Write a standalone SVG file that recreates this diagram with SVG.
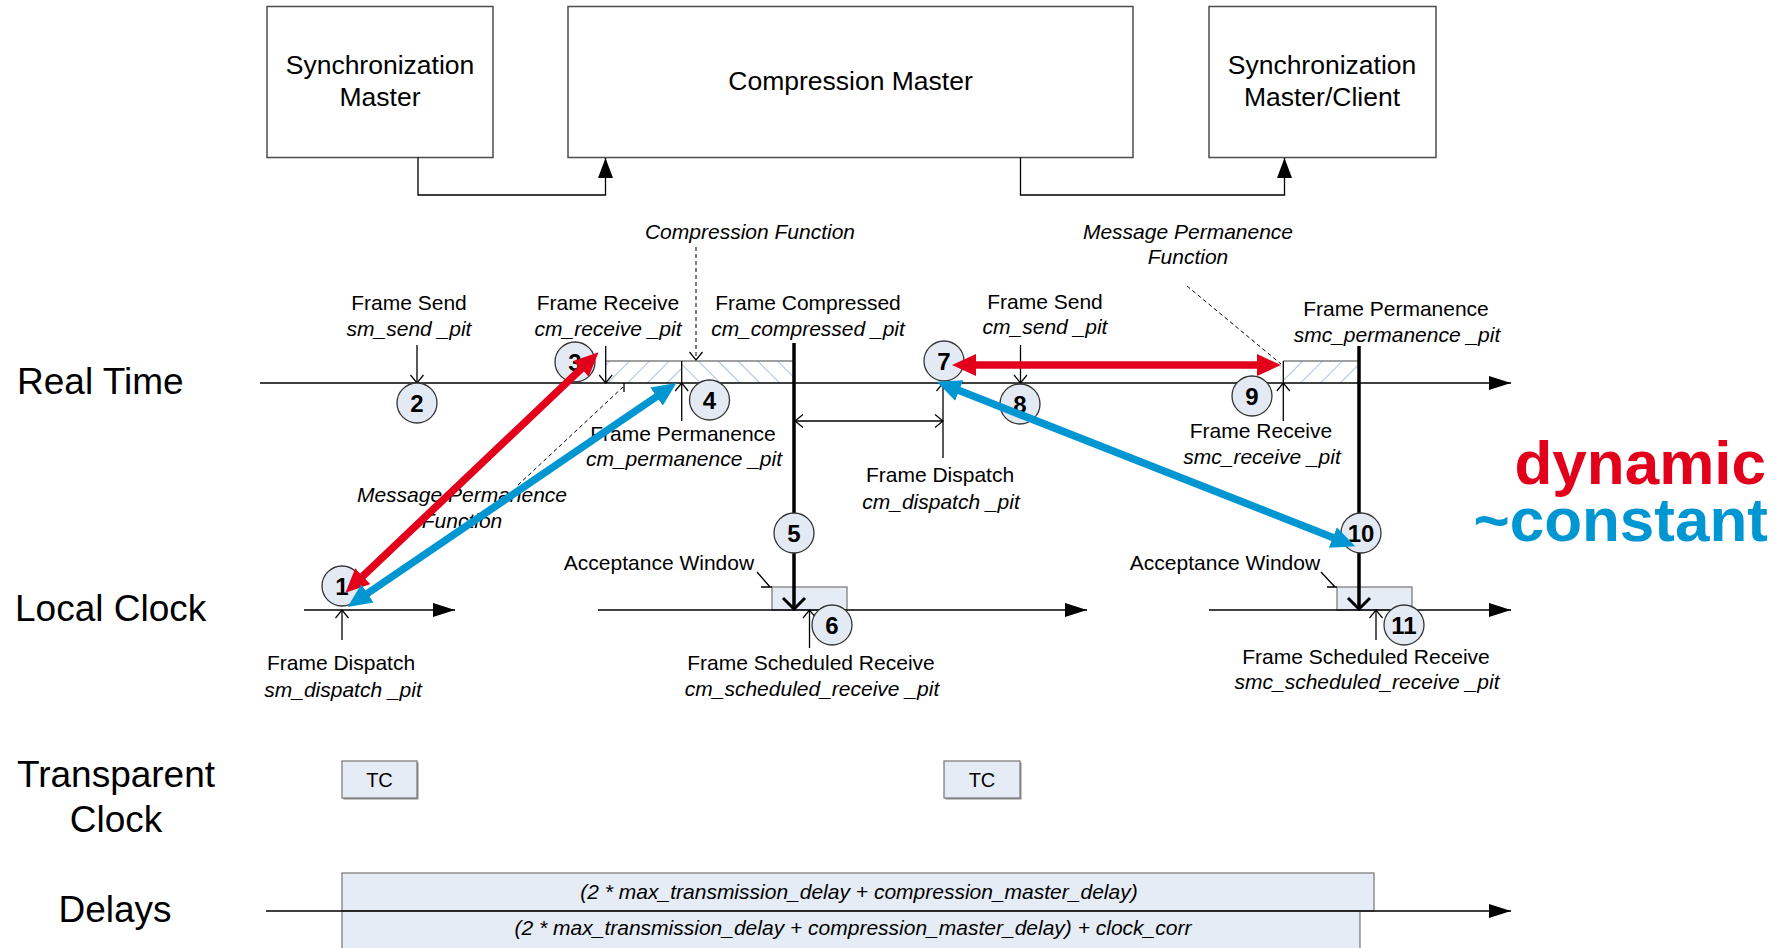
<svg xmlns="http://www.w3.org/2000/svg" width="1788" height="948" viewBox="0 0 1788 948">
  <style>
    text { font-family: "Liberation Sans", Arial, sans-serif; fill: #000; }
    .t { font-size: 21px; text-anchor: middle; }
    .i { font-style: italic; }
    .row { font-size: 37px; }
    .big { font-size: 26.5px; text-anchor: middle; }
    .num { font-size: 24px; font-weight: bold; text-anchor: middle; }
    .box { fill: #fff; stroke: #4d4d4d; stroke-width: 1.5; }
    .ln { fill: none; stroke: #000; stroke-width: 1.3; }
    .thick { fill: none; stroke: #000; stroke-width: 3.5; }
    .dash { fill: none; stroke: #000; stroke-width: 1; stroke-dasharray: 4 3; }
    .circ { fill: #e4eaf4; stroke: #333; stroke-width: 1.3; }
    .pale { fill: #e6ecf5; stroke: #7f7f7f; stroke-width: 1.3; }
    .win { fill: #e6ecf5; stroke: #7f7f7f; stroke-width: 1.3; }
    .red { fill: none; stroke: #e2001a; stroke-width: 7.5; }
    .blue { fill: none; stroke: #0096d2; stroke-width: 7.5; }
  </style>
  <defs>
    <marker id="solid" viewBox="0 0 22 14" refX="22" refY="7" markerWidth="22" markerHeight="14" markerUnits="userSpaceOnUse" orient="auto">
      <path d="M0,0 L22,7 L0,14 Z" fill="#000"/>
    </marker>
    <marker id="up" viewBox="0 0 20 15" refX="20" refY="7.5" markerWidth="20" markerHeight="15" markerUnits="userSpaceOnUse" orient="auto">
      <path d="M0,0 L20,7.5 L0,15 Z" fill="#000"/>
    </marker>
    <marker id="open" viewBox="-1 -1 10 15" refX="8" refY="6.5" markerWidth="10" markerHeight="15" markerUnits="userSpaceOnUse" orient="auto-start-reverse">
      <path d="M0,0 L8,6.5 L0,13" fill="none" stroke="#000" stroke-width="1.2"/>
    </marker>
    <marker id="openBold" viewBox="-2 -2 15 26" refX="11" refY="11" markerWidth="15" markerHeight="26" markerUnits="userSpaceOnUse" orient="auto">
      <path d="M0,0 L11,11 L0,22" fill="none" stroke="#000" stroke-width="3"/>
    </marker>
    <marker id="headRed" viewBox="0 0 24 22" refX="2" refY="11" markerWidth="24" markerHeight="22" markerUnits="userSpaceOnUse" orient="auto-start-reverse">
      <path d="M0,0 L24,11 L0,22 Z" fill="#e2001a"/>
    </marker>
    <marker id="headBlue" viewBox="0 0 24 22" refX="2" refY="11" markerWidth="24" markerHeight="22" markerUnits="userSpaceOnUse" orient="auto-start-reverse">
      <path d="M0,0 L24,11 L0,22 Z" fill="#0096d2"/>
    </marker>
    <pattern id="hatchUp" width="14" height="14" patternUnits="userSpaceOnUse" patternTransform="rotate(45)">
      <line x1="0" y1="0" x2="0" y2="14" stroke="#a6bee6" stroke-width="1.9"/>
    </pattern>
    <pattern id="hatchDown" width="14" height="14" patternUnits="userSpaceOnUse" patternTransform="rotate(-45)">
      <line x1="0" y1="0" x2="0" y2="14" stroke="#a6bee6" stroke-width="1.9"/>
    </pattern>
  </defs>

  <!-- top row: system components -->
  <g id="sync-master">
    <rect class="box" x="267" y="6.5" width="226" height="151"/>
    <text class="big" x="380" y="74">Synchronization</text>
    <text class="big" x="380" y="106">Master</text>
  </g>
  <g id="compression-master">
    <rect class="box" x="568" y="6.5" width="565" height="151"/>
    <text class="big" x="850.5" y="90">Compression Master</text>
  </g>
  <g id="sync-master-client">
    <rect class="box" x="1209" y="6.5" width="227" height="151"/>
    <text class="big" x="1322" y="74">Synchronization</text>
    <text class="big" x="1322" y="106">Master/Client</text>
  </g>

  <!-- row titles -->
  <g id="row-labels">
    <text class="row" x="17" y="394">Real Time</text>
    <text class="row" x="15" y="621">Local Clock</text>
    <text class="row" x="116" y="787" text-anchor="middle">Transparent</text>
    <text class="row" x="116" y="832" text-anchor="middle">Clock</text>
    <text class="row" x="115" y="922" text-anchor="middle">Delays</text>
  </g>

  <!-- processing intervals on the real time axis -->
  <g id="compression-interval">
    <rect x="605.7" y="361" width="76" height="22" fill="#fff"/>
    <rect x="605.7" y="361" width="76" height="22" fill="url(#hatchUp)"/>
    <rect x="681.7" y="361" width="111.5" height="22" fill="#fff"/>
    <rect x="681.7" y="361" width="111.5" height="22" fill="url(#hatchDown)"/>
    <line x1="605.7" y1="361" x2="793" y2="361" stroke="#7f7f7f" stroke-width="1.5"/>
  </g>
  <g id="permanence-interval">
    <rect x="1283.3" y="361" width="75" height="22" fill="#fff"/>
    <rect x="1283.3" y="361" width="75" height="22" fill="url(#hatchUp)"/>
    <line x1="1283.3" y1="361" x2="1358.3" y2="361" stroke="#7f7f7f" stroke-width="1.5"/>
  </g>

  <!-- acceptance windows on the local clock axis -->
  <g id="acceptance-window-1">
    <rect class="win" x="772" y="587" width="75" height="23"/>
  </g>
  <g id="acceptance-window-2">
    <rect class="win" x="1337" y="587" width="75" height="23"/>
  </g>

  <!-- transparent clocks -->
  <g id="tc-1">
    <rect x="343.5" y="762.5" width="75" height="37" fill="#8c8c8c"/>
    <rect class="pale" x="342" y="761" width="75" height="37"/>
    <text x="379.5" y="786.5" font-size="20" text-anchor="middle">TC</text>
  </g>
  <g id="tc-2">
    <rect x="945.5" y="762.5" width="76" height="37" fill="#8c8c8c"/>
    <rect class="pale" x="944" y="761" width="76" height="37"/>
    <text x="982" y="786.5" font-size="20" text-anchor="middle">TC</text>
  </g>

  <!-- delay budgets -->
  <g id="delay-budget">
    <rect class="pale" x="342" y="873" width="1032" height="38"/>
    <text class="t i" x="859" y="899">(2 * max_transmission_delay + compression_master_delay)</text>
  </g>
  <g id="delay-budget-corrected">
    <rect class="pale" x="342" y="911" width="1018" height="45"/>
    <text class="t i" x="853" y="935">(2 * max_transmission_delay + compression_master_delay) + clock_corr</text>
  </g>

  <!-- connectors: axes, time markers, leaders -->
  <g id="connectors">
    <path class="ln" d="M418,157.5 V195 H605.5 V158" marker-end="url(#up)"/>
    <path class="ln" d="M1020.5,157.5 V195 H1284.5 V158" marker-end="url(#up)"/>

    <line class="ln" x1="260" y1="383" x2="1511" y2="383" marker-end="url(#solid)"/>
    <line class="ln" x1="304" y1="610" x2="455" y2="610" marker-end="url(#solid)"/>
    <line class="ln" x1="598" y1="610" x2="1087" y2="610" marker-end="url(#solid)"/>
    <line class="ln" x1="1209" y1="610" x2="1511" y2="610" marker-end="url(#solid)"/>
    <line class="ln" x1="266" y1="911" x2="1511" y2="911" marker-end="url(#solid)"/>

    <!-- real time markers -->
    <line class="ln" x1="417" y1="345" x2="417" y2="383" marker-end="url(#open)"/>
    <line class="ln" x1="605.7" y1="346" x2="605.7" y2="383" marker-end="url(#open)"/>
    <line class="ln" x1="681.7" y1="421" x2="681.7" y2="383" marker-end="url(#open)"/>
    <line class="ln" x1="681.7" y1="383" x2="681.7" y2="361"/>
    <line class="ln" x1="943" y1="458" x2="943" y2="383" marker-end="url(#open)"/>
    <line class="ln" x1="795" y1="421" x2="943" y2="421" marker-start="url(#open)" marker-end="url(#open)"/>
    <line class="ln" x1="1020.5" y1="345" x2="1020.5" y2="383" marker-end="url(#open)"/>
    <line class="ln" x1="1283.3" y1="421" x2="1283.3" y2="383" marker-end="url(#open)"/>
    <line class="ln" x1="1283.3" y1="383" x2="1283.3" y2="361"/>
    <line class="ln" x1="624" y1="383" x2="624" y2="392"/>

    <!-- scheduled receptions on the local clock -->
    <line class="thick" x1="794" y1="343" x2="794" y2="609" marker-end="url(#openBold)"/>
    <line class="thick" x1="1359" y1="346" x2="1359" y2="609" marker-end="url(#openBold)"/>

    <!-- local clock markers -->
    <line class="ln" x1="342" y1="640" x2="342" y2="610" marker-end="url(#open)"/>
    <line class="ln" x1="809.5" y1="648" x2="809.5" y2="610" marker-end="url(#open)"/>
    <line class="ln" x1="1376" y1="640" x2="1376" y2="610" marker-end="url(#open)"/>

    <!-- acceptance window callouts -->
    <path class="ln" d="M757,572 L770,587 M761,587 H772"/>
    <path class="ln" d="M1321,572 L1335,587 M1327,587 H1337"/>

    <!-- function leaders -->
    <line class="dash" x1="696" y1="247" x2="696" y2="360" marker-end="url(#open)"/>
    <line class="dash" x1="1187" y1="286" x2="1281" y2="364"/>
    <line class="dash" x1="518" y1="485" x2="623" y2="387"/>
  </g>

  <!-- event markers -->
  <g id="event-1"><circle class="circ" cx="342" cy="586" r="20"/><text class="num" x="342" y="594.5">1</text></g>
  <g id="event-2"><circle class="circ" cx="417" cy="403" r="20"/><text class="num" x="417" y="411.5">2</text></g>
  <g id="event-3"><circle class="circ" cx="575" cy="362" r="20"/><text class="num" x="575" y="370.5">3</text></g>
  <g id="event-4"><circle class="circ" cx="709.5" cy="400" r="20"/><text class="num" x="709.5" y="408.5">4</text></g>
  <g id="event-5"><circle class="circ" cx="794" cy="533" r="20"/><text class="num" x="794" y="541.5">5</text></g>
  <g id="event-6"><circle class="circ" cx="832" cy="625" r="20"/><text class="num" x="832" y="633.5">6</text></g>
  <g id="event-7"><circle class="circ" cx="944" cy="361" r="20"/><text class="num" x="944" y="369.5">7</text></g>
  <g id="event-8"><circle class="circ" cx="1020" cy="404" r="20"/><text class="num" x="1020" y="412.5">8</text></g>
  <g id="event-9"><circle class="circ" cx="1252" cy="396" r="20"/><text class="num" x="1252" y="404.5">9</text></g>
  <g id="event-10"><circle class="circ" cx="1361" cy="533" r="20"/><text class="num" x="1361" y="541.5">10</text></g>
  <g id="event-11"><circle class="circ" cx="1404" cy="625" r="20"/><text class="num" x="1404" y="633.5">11</text></g>

  <!-- event labels -->
  <g id="labels">
    <text class="t" x="409" y="310">Frame Send</text>
    <text class="t i" x="409" y="336">sm_send _pit</text>
    <text class="t" x="608" y="310">Frame Receive</text>
    <text class="t i" x="608" y="336">cm_receive _pit</text>
    <text class="t" x="808" y="310">Frame Compressed</text>
    <text class="t i" x="808" y="336">cm_compressed _pit</text>
    <text class="t i" x="750" y="239">Compression Function</text>
    <text class="t i" x="1188" y="239">Message Permanence</text>
    <text class="t i" x="1188" y="264">Function</text>
    <text class="t" x="1045" y="309">Frame Send</text>
    <text class="t i" x="1045" y="334">cm_send _pit</text>
    <text class="t" x="1396" y="316">Frame Permanence</text>
    <text class="t i" x="1397" y="342">smc_permanence _pit</text>
    <text class="t" x="683" y="441">Frame Permanence</text>
    <text class="t i" x="684" y="466">cm_permanence _pit</text>
    <text class="t" x="940" y="482">Frame Dispatch</text>
    <text class="t i" x="941" y="509">cm_dispatch _pit</text>
    <text class="t" x="1261" y="438">Frame Receive</text>
    <text class="t i" x="1262" y="464">smc_receive _pit</text>
    <text class="t i" x="462" y="502">Message Permanence</text>
    <text class="t i" x="462" y="528">Function</text>
    <text class="t" x="659" y="570">Acceptance Window</text>
    <text class="t" x="1225" y="570">Acceptance Window</text>
    <text class="t" x="341" y="670">Frame Dispatch</text>
    <text class="t i" x="343" y="697">sm_dispatch _pit</text>
    <text class="t" x="811" y="670">Frame Scheduled Receive</text>
    <text class="t i" x="812" y="696">cm_scheduled_receive _pit</text>
    <text class="t" x="1366" y="664">Frame Scheduled Receive</text>
    <text class="t i" x="1367" y="689">smc_scheduled_receive _pit</text>
  </g>

  <!-- round-trip delay paths -->
  <g id="delay-paths">
    <line class="red" x1="582.6" y1="367.5" x2="361.4" y2="577.5" marker-start="url(#headRed)" marker-end="url(#headRed)"/>
    <line class="blue" x1="658.2" y1="395.5" x2="365.8" y2="594.5" marker-start="url(#headBlue)" marker-end="url(#headBlue)"/>
    <line class="red" x1="974" y1="365" x2="1259" y2="365" marker-start="url(#headRed)" marker-end="url(#headRed)"/>
    <line class="blue" x1="957.3" y1="389.8" x2="1334.7" y2="538.2" marker-start="url(#headBlue)" marker-end="url(#headBlue)"/>
  </g>

  <g id="legend">
    <text x="1766" y="484" font-size="62" font-weight="bold" text-anchor="end" style="fill:#e2001a">dynamic</text>
    <text x="1768" y="541" font-size="62" font-weight="bold" text-anchor="end" style="fill:#0096d2">~constant</text>
  </g>
</svg>
